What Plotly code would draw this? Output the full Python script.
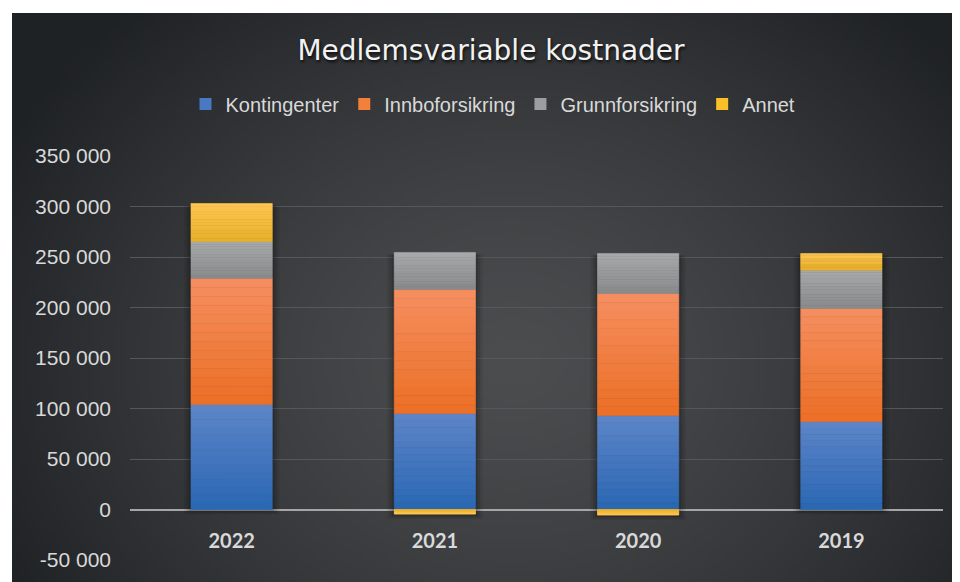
import base64, struct, zlib
import numpy as np
import plotly.graph_objects as go

# ---------------- data ----------------
years = ["2022", "2021", "2020", "2019"]
kontingenter = [104000, 95000, 93000, 87000]
innboforsikring = [125000, 122800, 120900, 112000]
grunnforsikring = [36300, 36700, 39600, 38000]
annet = [37700, -4500, -5500, 16500]
tick_vals = [-50000, 0, 50000, 100000, 150000, 200000, 250000, 300000, 350000]
tick_text = ["-50 000", "0", "50 000", "100 000", "150 000", "200 000", "250 000", "300 000", "350 000"]

# ---------------- background gradient (radial) ----------------
W, H = 240, 144
yy, xx = np.mgrid[0:H, 0:W].astype(float)
cx, cy = W * 0.50, H * 0.58
t = np.sqrt(((xx - cx) / (W * 0.58)) ** 2 + ((yy - cy) / (H * 0.80)) ** 2)
t = np.clip(t, 0, 1) ** 1.3
c0 = np.array([0x4c, 0x4d, 0x4f], float)
c1 = np.array([0x1f, 0x22, 0x25], float)
img = (c0[None, None, :] * (1 - t[..., None]) + c1[None, None, :] * t[..., None]).astype(np.uint8)
raw = b"".join(b"\x00" + img[r].tobytes() for r in range(H))
def chunk(tag, data):
    c = struct.pack(">I", len(data)) + tag + data
    return c + struct.pack(">I", zlib.crc32(tag + data) & 0xffffffff)
png = b"\x89PNG\r\n\x1a\n" + chunk(b"IHDR", struct.pack(">IIBBBBB", W, H, 8, 2, 0, 0, 0)) \
      + chunk(b"IDAT", zlib.compress(raw, 9)) + chunk(b"IEND", b"")
bg_uri = "data:image/png;base64," + base64.b64encode(png).decode()

# ---------------- figure ----------------
FW, FH = 960, 582
L, R, T, B = 122, 25, 148, 30
PW, PH = FW - L - R, FH - T - B
BG_L, BG_T = 4, 5

def hex2rgb(h):
    h = h.lstrip("#")
    return np.array([int(h[i:i + 2], 16) for i in (0, 2, 4)], float)

series = [
    ("Kontingenter", kontingenter, "#2b68b4", "#5c84c7", "#4a78c2"),
    ("Innboforsikring", innboforsikring, "#ec7027", "#f58d5e", "#f27f3a"),
    ("Grunnforsikring", grunnforsikring, "#898b8c", "#a6a9a9", "#9b9d9e"),
    ("Annet", annet, "#e9b12a", "#ffc650", "#fbbf28"),
]
NS = 14  # vertical gradient slices per segment

fig = go.Figure()

# soft drop shadow behind each stacked column (base axes, drawn beneath the bars)
allv = np.array([kontingenter, innboforsikring, grunnforsikring, annet], float)
pos_tot = np.where(allv > 0, allv, 0).sum(axis=0)
neg_tot = np.where(allv < 0, allv, 0).sum(axis=0)
for k, (wd, a) in enumerate([(0.47, 0.07), (0.445, 0.10), (0.42, 0.14)]):
    fig.add_trace(go.Bar(x=years, y=pos_tot - neg_tot + 3000 - k * 1500,
                         base=neg_tot - 5000 + k * 1500, width=wd,
                         marker=dict(color="rgba(0,0,0,%.2f)" % a, line=dict(width=0)),
                         showlegend=False, hoverinfo="skip", xaxis="x", yaxis="y"))

for name, vals, cbot, ctop, cleg in series:
    vals = np.array(vals, float)
    b, tp = hex2rgb(cbot), hex2rgb(ctop)
    for k in range(NS):
        f = k / (NS - 1)
        c = b * (1 - f) + tp * f
        col = "rgb(%d,%d,%d)" % tuple(c.round())
        fig.add_trace(go.Bar(x=years, y=vals / NS, name=name, width=0.4,
                             legendgroup=name, showlegend=False, hoverinfo="skip",
                             marker=dict(color=col, line=dict(width=0.6, color=col)),
                             xaxis="x2", yaxis="y2"))
    fig.add_trace(go.Bar(x=years, y=vals * 0, name=name, width=0.4, legendgroup=name,
                         showlegend=True, hoverinfo="skip",
                         marker=dict(color=cleg, line=dict(width=0)),
                         xaxis="x2", yaxis="y2"))

fig.add_layout_image(dict(
    source=bg_uri, xref="paper", yref="paper",
    x=(BG_L - L) / PW, y=(FH - B - BG_T) / PH,
    sizex=(FW - BG_L) / PW + 0.05, sizey=(FH - BG_T) / PH + 0.05,
    sizing="stretch", xanchor="left", yanchor="top", layer="below"))

fig.update_layout(
    width=FW, height=FH,
    barmode="relative",
    template="none",
    paper_bgcolor="#202326",
    plot_bgcolor="rgba(0,0,0,0)",
    margin=dict(l=L, r=R, t=T, b=B),
    shapes=[
        dict(type="rect", xref="paper", yref="paper", layer="below",
             x0=(0 - L) / PW, x1=(BG_L - L) / PW, y0=-0.2, y1=(FH - B) / PH + 0.1,
             fillcolor="white", line=dict(width=0)),
        dict(type="rect", xref="paper", yref="paper", layer="below",
             x0=(0 - L) / PW, x1=1.2, y0=(FH - B - BG_T) / PH, y1=(FH - B) / PH + 0.1,
             fillcolor="white", line=dict(width=0)),
    ],
    title=dict(text="Medlemsvariable kostnader", xref="container", x=(491 - 8) / FW,
               xanchor="center", yref="container", y=1 - 42 / FH, yanchor="middle",
               font=dict(family="DejaVu Sans", size=28, color="#f2f2f2",
                         shadow="1px 2px 3px rgba(0,0,0,0.8)")),
    legend=dict(orientation="h", xref="container", x=(493 - 8) / FW, xanchor="center",
                yref="container", y=1 - 96 / FH, yanchor="middle", traceorder="normal",
                font=dict(family="Liberation Sans", size=20, color="#d9d9d9"),
                bgcolor="rgba(0,0,0,0)"),
    yaxis=dict(range=[-50000, 350000], tickvals=tick_vals, ticktext=tick_text,
               showgrid=True, gridcolor="#55585b", gridwidth=1,
               zeroline=False, showline=False, ticks="", ticklabelstandoff=18,
               tickfont=dict(family="Liberation Sans", size=21, color="#d9d9d9")),
    yaxis2=dict(overlaying="y", matches="y", visible=True, showgrid=False,
                showticklabels=False, ticks="", showline=False,
                zeroline=True, zerolinecolor="#a6a6a6", zerolinewidth=2),
    xaxis=dict(type="category", categoryorder="array", categoryarray=years,
               anchor="free", position=(552 - 501) / PH, showgrid=False, showline=False,
               zeroline=False, ticks="", ticklabelstandoff=18,
               tickfont=dict(family="Lato", size=20, color="#d9d9d9", weight="bold")),
    xaxis2=dict(type="category", categoryorder="array", categoryarray=years,
                overlaying="x", matches="x", visible=False),
)

fig.write_html("out.html")
